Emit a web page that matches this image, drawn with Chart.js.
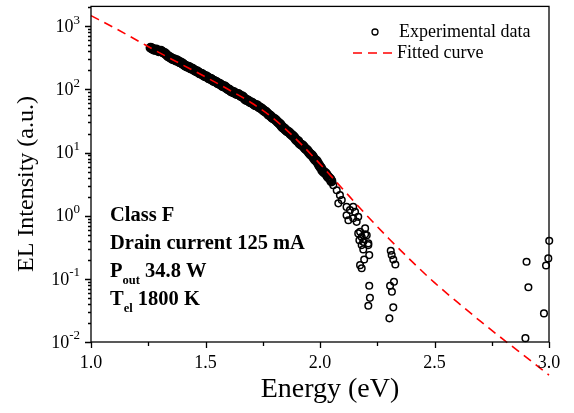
<!DOCTYPE html>
<html>
<head>
<meta charset="utf-8">
<script src="https://cdn.jsdelivr.net/npm/chart.js@4.4.0/dist/chart.umd.min.js"></script>
<style>
  html, body { margin: 0; padding: 0; background: #fff; }
  #wrap { width: 574px; height: 413px; }
</style>
</head>
<body>
<div id="wrap"><canvas id="chart" width="574" height="413"></canvas></div>
<script>
// fitted curve (eV, a.u.)
const fitEnergy = [1.0, 1.1, 1.2, 1.3, 1.4, 1.5, 1.6, 1.7, 1.8, 1.9, 2.0, 2.1, 2.2, 2.3, 2.4, 2.5, 2.6, 2.7, 2.8, 2.9, 3.0];
const fitIntensity = [1479, 955, 603, 380, 245, 158, 100, 61.7, 33.9, 15.8, 6.61, 2.63, 1.05, 0.437, 0.191, 0.0871, 0.0427, 0.0214, 0.011, 0.00575, 0.0030];

// experimental points, dense band
const bandEnergy = [
  1.26, 1.265, 1.27, 1.275, 1.28, 1.285, 1.29, 1.295, 1.30, 1.305, 1.31, 1.315, 1.32, 1.325,
  1.33, 1.335, 1.34, 1.345, 1.35, 1.355, 1.36, 1.365, 1.37, 1.375, 1.38, 1.385, 1.39, 1.395,
  1.40, 1.405, 1.41, 1.415, 1.42, 1.425, 1.43, 1.435, 1.44, 1.445, 1.45, 1.455, 1.46, 1.465,
  1.47, 1.475, 1.48, 1.485, 1.49, 1.495, 1.50, 1.505, 1.51, 1.515, 1.52, 1.525, 1.53, 1.535,
  1.54, 1.545, 1.55, 1.555, 1.56, 1.565, 1.57, 1.575, 1.58, 1.585, 1.59, 1.595, 1.60, 1.605,
  1.61, 1.615, 1.62, 1.625, 1.63, 1.635, 1.64, 1.645, 1.65, 1.655, 1.66, 1.665, 1.67, 1.675,
  1.68, 1.685, 1.69, 1.695, 1.70, 1.705, 1.71, 1.715, 1.72, 1.725, 1.73, 1.735, 1.74, 1.745,
  1.75, 1.755, 1.76, 1.765, 1.77, 1.775, 1.78, 1.785, 1.79, 1.795, 1.80, 1.805, 1.81, 1.815,
  1.82, 1.825, 1.83, 1.835, 1.84, 1.845, 1.85, 1.855, 1.86, 1.865, 1.87, 1.875, 1.88, 1.885,
  1.89, 1.895, 1.90, 1.905, 1.91, 1.915, 1.92, 1.925, 1.93, 1.935, 1.94, 1.945, 1.95, 1.955,
  1.96, 1.965, 1.97, 1.975, 1.98, 1.985, 1.99, 1.995, 2.00, 2.005, 2.01, 2.015, 2.02, 2.025,
  2.03, 2.035, 2.04, 2.045, 2.05
];
const bandIntensity = [
  457, 450, 437, 425, 427, 430, 417, 405, 407, 410, 398, 385, 380, 372,
  355, 340, 331, 325, 316, 305, 302, 298, 288, 290, 282, 272, 269, 262,
  257, 248, 240, 236, 229, 229, 224, 216, 214, 211, 204, 198, 195, 192,
  186, 180, 178, 176, 170, 164, 162, 160, 155, 150, 148, 146, 141, 137,
  135, 133, 129, 125, 123, 121, 117, 113, 112, 111, 107, 103, 100, 99,
  95, 92, 91, 90, 87, 85, 85, 84, 81, 78, 78, 76, 72, 69,
  68, 67, 65, 63, 62, 61, 59, 57, 56, 56, 54, 52, 51, 50,
  48, 46, 45, 44, 42, 40, 39, 38, 36, 35, 34, 33.5, 32, 30.5,
  29.5, 28.5, 27, 25.5, 24.5, 24, 22.9, 22, 21.4, 21, 20, 19.2, 18.6, 18,
  17, 16, 15.5, 15.2, 14.1, 13.6, 13.2, 13, 12.3, 11.6, 11.2, 10.9, 10.2, 9.7,
  9.3, 9.1, 8.5, 8.0, 7.6, 7.4, 6.9, 6.4, 6.0, 5.7, 5.2, 5.0, 4.8, 4.7,
  4.4, 4.1, 4.0, 3.8, 3.5
];

// experimental points, scattered tail
const tailEnergy = [
  2.051, 2.058, 2.073, 2.087, 2.095, 2.080, 2.116, 2.131, 2.145, 2.153, 2.116, 2.124, 2.145,
  2.160, 2.167, 2.175, 2.197, 2.182, 2.204, 2.189, 2.211, 2.167, 2.197, 2.172, 2.182, 2.211,
  2.189, 2.215, 2.193, 2.175, 2.182, 2.215, 2.218, 2.211,
  2.309, 2.313, 2.320, 2.329, 2.323, 2.306, 2.314, 2.320, 2.303,
  2.902, 2.910, 2.897, 2.978, 2.987, 2.997, 3.001
];
const tailIntensity = [
  3.66, 3.05, 2.54, 2.12, 1.77, 1.57, 1.38, 1.23, 1.38, 1.15, 1.02, 0.85, 0.91,
  0.80, 0.96, 0.556, 0.63, 0.46, 0.49, 0.386, 0.365, 0.525, 0.51, 0.41, 0.343, 0.343,
  0.293, 0.238, 0.203, 0.165, 0.147, 0.078, 0.050, 0.0376,
  0.279, 0.238, 0.203, 0.169, 0.090, 0.078, 0.0625, 0.0354, 0.0237,
  0.187, 0.0735, 0.0115, 0.0284, 0.163, 0.211, 0.40
];

const xTicks = [1.0, 1.5, 2.0, 2.5, 3.0];
const yDecades = [-2, -1, 0, 1, 2, 3];

const serif = '"Liberation Serif", "Times New Roman", serif';

const decor = {
  id: 'decor',
  afterDraw(chart) {
    const ctx = chart.ctx;
    const a = chart.chartArea;
    const xs = chart.scales.x, ys = chart.scales.y;
    ctx.save();
    ctx.strokeStyle = '#000';
    ctx.fillStyle = '#000';
    ctx.lineWidth = 1.3;
    ctx.strokeRect(a.left, a.top, a.right - a.left, a.bottom - a.top);

    // x ticks
    ctx.beginPath();
    for (let v = 1.0; v <= 3.0001; v += 0.25) {
      const px = Math.round(xs.getPixelForValue(v)) + 0.5;
      const major = Math.abs(v * 2 - Math.round(v * 2)) < 1e-6;
      ctx.moveTo(px, a.bottom);
      ctx.lineTo(px, a.bottom + (major ? 6 : 4));
    }
    ctx.stroke();
    ctx.font = '18px ' + serif;
    ctx.textAlign = 'center';
    ctx.textBaseline = 'middle';
    xTicks.forEach(v => ctx.fillText(v.toFixed(1), xs.getPixelForValue(v), 363));

    // y ticks
    ctx.beginPath();
    for (let d = -2; d <= 3; d++) {
      for (let m = 1; m <= 9; m++) {
        const v = m * Math.pow(10, d);
        if (v > ys.max) break;
        const py = Math.round(ys.getPixelForValue(v)) + 0.5;
        ctx.moveTo(a.left, py);
        ctx.lineTo(a.left - (m === 1 ? 6 : 3), py);
      }
    }
    ctx.stroke();
    yDecades.forEach(d => {
      const py = ys.getPixelForValue(Math.pow(10, d));
      ctx.font = '18px ' + serif;
      const w1 = ctx.measureText('10').width;
      ctx.font = '13px ' + serif;
      const sup = String(d);
      const w2 = ctx.measureText(sup).width;
      const right = 80;
      ctx.textAlign = 'left';
      ctx.textBaseline = 'middle';
      ctx.font = '18px ' + serif;
      ctx.fillText('10', right - w1 - w2, py + 1);
      ctx.font = '13px ' + serif;
      ctx.fillText(sup, right - w2, py - 6);
    });

    // axis titles
    ctx.textAlign = 'center';
    ctx.textBaseline = 'middle';
    ctx.font = '28px ' + serif;
    ctx.fillText('Energy (eV)', 330, 390);
    ctx.save();
    ctx.translate(27, 184);
    ctx.rotate(-Math.PI / 2);
    ctx.font = '24px ' + serif;
    ctx.fillText('EL Intensity (a.u.)', 0, 0);
    ctx.restore();

    // legend
    ctx.lineWidth = 1.3;
    ctx.beginPath();
    ctx.arc(375, 32, 3, 0, Math.PI * 2);
    ctx.stroke();
    ctx.strokeStyle = '#ff0000';
    ctx.lineWidth = 1.5;
    ctx.setLineDash([9, 6]);
    ctx.beginPath();
    ctx.moveTo(353, 53);
    ctx.lineTo(396, 53);
    ctx.stroke();
    ctx.setLineDash([]);
    ctx.textAlign = 'left';
    ctx.font = '18px ' + serif;
    ctx.fillText('Experimental data', 399, 32);
    ctx.fillText('Fitted curve', 397, 53);

    // annotation
    const x0 = 110;
    ctx.font = 'bold 20.5px ' + serif;
    ctx.fillText('Class F', x0, 216);
    ctx.fillText('Drain current 125 mA', x0, 244);
    ctx.fillText('P', x0, 272);
    let w = ctx.measureText('P').width;
    ctx.font = 'bold 12.5px ' + serif;
    ctx.fillText('out', x0 + w, 281);
    let w2 = ctx.measureText('out').width;
    ctx.font = 'bold 20.5px ' + serif;
    ctx.fillText(' 34.8 W', x0 + w + w2, 272);
    ctx.fillText('T', x0, 300);
    w = ctx.measureText('T').width;
    ctx.font = 'bold 12.5px ' + serif;
    ctx.fillText('el', x0 + w, 309);
    w2 = ctx.measureText('el').width;
    ctx.font = 'bold 20.5px ' + serif;
    ctx.fillText(' 1800 K', x0 + w + w2, 300);
    ctx.restore();
  }
};

new Chart(document.getElementById('chart'), {
  type: 'scatter',
  data: {
    datasets: [
      {
        label: 'Fitted curve',
        type: 'line',
        data: fitEnergy.map((e, i) => ({ x: e, y: fitIntensity[i] })),
        borderColor: '#ff0000',
        borderWidth: 1.6,
        borderDash: [9, 6],
        pointRadius: 0,
        fill: false,
        cubicInterpolationMode: 'monotone',
        clip: false
      },
      {
        label: 'Experimental data',
        data: bandEnergy.map((e, i) => ({ x: e, y: bandIntensity[i] })),
        pointStyle: 'circle',
        pointRadius: 3.8,
        pointBorderWidth: 2.4,
        pointBorderColor: '#000',
        pointBackgroundColor: 'rgba(0,0,0,0)',
        clip: false
      },
      {
        label: 'Experimental data (tail)',
        data: tailEnergy.map((e, i) => ({ x: e, y: tailIntensity[i] })),
        pointStyle: 'circle',
        pointRadius: 3.3,
        pointBorderWidth: 1.5,
        pointBorderColor: '#000',
        pointBackgroundColor: 'rgba(0,0,0,0)',
        clip: false
      }
    ]
  },
  options: {
    responsive: false,
    animation: false,
    layout: { padding: { left: 91, right: 25, top: 6, bottom: 71 } },
    plugins: { legend: { display: false }, tooltip: { enabled: false } },
    scales: {
      x: { type: 'linear', min: 1.0, max: 3.0, display: false },
      y: { type: 'logarithmic', min: 0.01, max: 2070, display: false }
    }
  },
  plugins: [decor]
});
</script>
</body>
</html>
